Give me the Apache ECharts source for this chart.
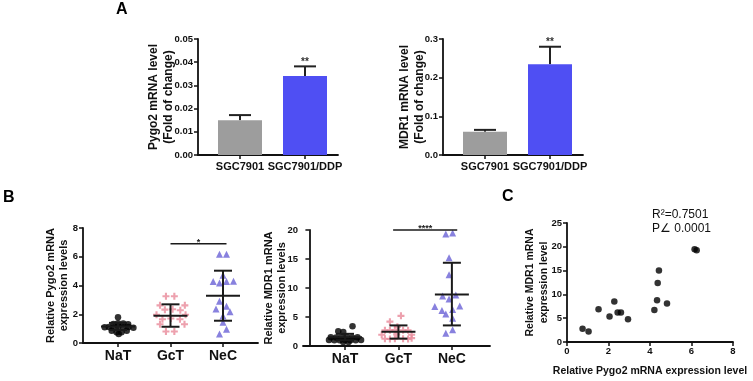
<!DOCTYPE html>
<html>
<head>
<meta charset="utf-8">
<script src="https://cdn.jsdelivr.net/npm/echarts@6.0.0/dist/echarts.min.js"></script>
<style>
html, body { margin: 0; padding: 0; background: #fff; }
#main { width: 753px; height: 381px; }
</style>
</head>
<body>
<div id="main"></div>
<script>
// ---- panel A : qPCR fold change ----
const cellLines = ['SGC7901', 'SGC7901/DDP'];
const cellPos = [2.1, 5.35];
const pygo2Fold = [0.015, 0.034];
const pygo2FoldErr = [0.0172, 0.0382];
const mdr1Fold = [0.060, 0.235];
const mdr1FoldErr = [0.065, 0.280];
const foldStars = ['', '**'];

// ---- panel B : tissue groups ----
const groups = ['NaT', 'GcT', 'NeC'];
const groupPos = [1, 2.5, 4];
const pygo2NaT = [[1.0,1.8],[0.87,1.32],[1.0,1.38],[1.15,1.36],[1.29,1.3],[0.62,1.1],[0.74,1.12],[0.87,1.08],[1.01,1.15],[1.15,1.1],[1.3,1.12],[1.44,1.06],[0.82,0.86],[0.96,0.74],[1.1,0.75],[1.25,0.86],[1.02,0.62]];
const pygo2GcT = [[2.37,3.25],[2.61,3.25],[2.2,2.62],[2.91,2.62],[2.34,2.32],[2.56,2.35],[2.78,2.28],[2.1,1.97],[2.93,1.97],[2.27,1.65],[2.51,1.7],[2.77,1.65],[2.2,1.3],[2.9,1.3],[2.37,0.8],[2.61,0.8]];
const pygo2NeC = [[3.9,6.17],[4.1,6.17],[4.0,4.72],[3.72,4.28],[3.9,4.18],[4.1,4.28],[4.3,4.3],[3.9,2.9],[4.1,2.55],[3.8,2.37],[4.2,2.18],[4.0,1.88],[4.0,1.45],[4.1,0.95],[3.9,0.63]];
const pygo2Mean = [1.15, 1.9, 3.29];
const pygo2Upper = [1.4, 2.69, 5.03];
const pygo2Lower = [0.9, 1.13, 1.55];
const pygo2Sig = [2.5, 4.1, 6.9];
const pygo2SigLabel = '*';

const mdr1NaT = [[1.21,3.4],[0.81,2.55],[0.95,2.4],[0.6,1.5],[0.75,1.45],[0.9,1.5],[1.05,1.55],[1.2,1.45],[1.35,1.5],[0.55,1.05],[0.7,1.0],[0.85,1.0],[1.0,1.05],[1.15,1.0],[1.3,1.0],[1.45,1.05],[0.95,0.7],[1.1,0.7]];
const mdr1GcT = [[2.57,5.2],[2.26,4.2],[2.47,3.3],[2.12,2.7],[2.26,2.7],[2.4,2.75],[2.63,2.7],[2.77,2.7],[2.03,1.95],[2.87,1.95],[2.45,2.0],[2.12,1.25],[2.26,1.2],[2.4,1.25],[2.63,1.25],[2.77,1.2],[2.87,1.35]];
const mdr1NeC = [[3.83,19.3],[4.02,19.5],[3.92,15.2],[3.92,12.3],[3.74,8.6],[4.11,8.8],[3.92,8.1],[3.52,6.8],[4.22,6.9],[3.83,5.5],[4.02,6.3],[3.72,6.1],[4.02,4.8],[4.02,2.8],[3.83,2.2]];
const mdr1Mean = [1.5, 2.45, 8.88];
const mdr1Upper = [2.1, 3.55, 14.35];
const mdr1Lower = [1.0, 1.27, 3.55];
const mdr1Sig = [2.35, 4.15, 20];
const mdr1SigLabel = '****';

// ---- panel C : correlation ----
const corrPygo2 = [0.75, 1.04, 1.52, 2.05, 2.28, 2.44, 2.6, 2.94, 4.21, 4.34, 4.37, 4.43, 4.82, 6.15, 6.25];
const corrMdr1 = [2.8, 2.2, 6.9, 5.35, 8.5, 6.2, 6.2, 4.8, 6.7, 8.75, 12.4, 15.0, 8.1, 19.5, 19.3];

const FONT = "'Liberation Sans', Arial, Helvetica, sans-serif";
const INK = '#111';
const barColors = ['#9d9d9d', '#4f4ff3'];

const chart = echarts.init(document.getElementById('main'));

function xLine() { return { show: true, lineStyle: { color: INK, width: 1.8 } }; }
function ticks(custom) {
  const t = { show: true, length: 4, lineStyle: { color: INK, width: 1.5 } };
  if (custom) t.customValues = custom;
  return t;
}
function lbl(size, margin) {
  return { color: INK, fontFamily: FONT, fontWeight: 'bold', fontSize: size, margin: margin };
}
function named(names, pos) {
  return v => {
    for (let i = 0; i < pos.length; i++) if (Math.abs(pos[i] - v) < 1e-6) return names[i];
    return '';
  };
}
function yName(text, gap, size, lh) {
  return {
    name: text, nameLocation: 'middle', nameRotate: 90, nameGap: gap, nameMoveOverlap: false,
    nameTextStyle: { color: INK, fontFamily: FONT, fontWeight: 'bold', fontSize: size, lineHeight: lh }
  };
}

function barRender(params, api) {
  const i = params.dataIndex;
  const base = api.coord([api.value(0), 0]);
  const top = api.coord([api.value(0), api.value(1)]);
  const err = api.coord([api.value(0), api.value(2)]);
  const ls = { stroke: '#222', lineWidth: 2 };
  return {
    type: 'group', children: [
      { type: 'line', shape: { x1: top[0], y1: top[1], x2: top[0], y2: err[1] }, style: ls },
      { type: 'line', shape: { x1: top[0] - 11, y1: err[1], x2: top[0] + 11, y2: err[1] }, style: ls },
      { type: 'rect', shape: { x: base[0] - 22, y: top[1], width: 44, height: base[1] - top[1] }, style: { fill: barColors[i] } },
      { type: 'text', style: { text: foldStars[i], x: top[0], y: err[1] + 1, align: 'center', verticalAlign: 'bottom', fill: '#333', font: 'bold 10px ' + FONT } }
    ]
  };
}

function sdRender(params, api) {
  const c = api.coord([api.value(0), api.value(1)]);
  const hi = api.coord([api.value(0), api.value(2)]);
  const lo = api.coord([api.value(0), api.value(3)]);
  const ls = { stroke: '#1a1a1a', lineWidth: 2 };
  return {
    type: 'group', children: [
      { type: 'line', shape: { x1: c[0], y1: hi[1], x2: c[0], y2: lo[1] }, style: ls },
      { type: 'line', shape: { x1: c[0] - 17, y1: c[1], x2: c[0] + 17, y2: c[1] }, style: ls },
      { type: 'line', shape: { x1: c[0] - 9, y1: hi[1], x2: c[0] + 9, y2: hi[1] }, style: ls },
      { type: 'line', shape: { x1: c[0] - 9, y1: lo[1], x2: c[0] + 9, y2: lo[1] }, style: ls }
    ]
  };
}

function sigRender(label) {
  return (params, api) => {
    const a = api.coord([api.value(0), api.value(2)]);
    const b = api.coord([api.value(1), api.value(2)]);
    return {
      type: 'group', children: [
        { type: 'line', shape: { x1: a[0], y1: a[1], x2: b[0], y2: b[1] }, style: { stroke: '#1a1a1a', lineWidth: 1.6 } },
        { type: 'text', style: { text: label, x: (a[0] + b[0]) / 2, y: a[1] + 3, align: 'center', verticalAlign: 'bottom', fill: '#222', font: 'bold 9px ' + FONT } }
      ]
    };
  };
}

const plusPath = 'path://M3.5,0h3v3.5h3.5v3h-3.5v3.5h-3v-3.5h-3.5v-3h3.5z';
const pink = '#e8899a';
const violet = '#6a62d6';

function groupSeries(g, nat, gct, nec, mean, upper, lower, sig, sigLabel) {
  const ax = { xAxisIndex: g, yAxisIndex: g };
  return [
    Object.assign({ type: 'scatter', data: nat, symbol: 'circle', symbolSize: 6.5, itemStyle: { color: '#000' }, z: 3 }, ax),
    Object.assign({ type: 'scatter', data: gct, symbol: plusPath, symbolSize: 7, itemStyle: { color: pink }, z: 3 }, ax),
    Object.assign({ type: 'scatter', data: nec, symbol: 'triangle', symbolSize: 7, itemStyle: { color: violet }, z: 3 }, ax),
    Object.assign({ type: 'custom', renderItem: sdRender, clip: false, z: 5,
      data: groupPos.map((p, i) => [p, mean[i], upper[i], lower[i]]) }, ax),
    Object.assign({ type: 'custom', renderItem: sigRender(sigLabel), clip: false, z: 5, data: [sig] }, ax)
  ];
}

const grids = [
  { left: 198, top: 39, width: 140, height: 116 },
  { left: 443, top: 39, width: 140, height: 116 },
  { left: 83, top: 228, width: 175, height: 115 },
  { left: 303, top: 230, width: 187, height: 116 },
  { left: 567, top: 223, width: 166, height: 119 }
].map(g => Object.assign({ outerBoundsMode: 'none', containLabel: false }, g));

const option = {
  animation: false,
  backgroundColor: '#fff',
  grid: grids,
  xAxis: [
    { gridIndex: 0, type: 'value', min: 0, max: 7, splitLine: { show: false }, axisLine: xLine(),
      axisTick: ticks(cellPos), axisLabel: Object.assign(lbl(11, 6), { customValues: cellPos, formatter: named(cellLines, cellPos) }) },
    { gridIndex: 1, type: 'value', min: 0, max: 7, splitLine: { show: false }, axisLine: xLine(),
      axisTick: ticks(cellPos), axisLabel: Object.assign(lbl(11, 6), { customValues: cellPos, formatter: named(cellLines, cellPos) }) },
    { gridIndex: 2, type: 'value', min: 0, max: 5, splitLine: { show: false }, axisLine: xLine(),
      axisTick: ticks(groupPos), axisLabel: Object.assign(lbl(14, 6), { customValues: groupPos, formatter: named(groups, groupPos) }) },
    { gridIndex: 3, type: 'value', min: -0.18, max: 5.07, splitLine: { show: false }, axisLine: xLine(),
      axisTick: ticks(groupPos), axisLabel: Object.assign(lbl(14, 6), { customValues: groupPos, formatter: named(groups, groupPos) }) },
    { gridIndex: 4, type: 'value', min: 0, max: 8, interval: 2, splitLine: { show: false }, axisLine: xLine(),
      axisTick: ticks(), axisLabel: lbl(9.5, 4),
      name: 'Relative Pygo2 mRNA expression level', nameLocation: 'middle', nameGap: 24, nameMoveOverlap: false,
      nameTextStyle: { color: INK, fontFamily: FONT, fontWeight: 'bold', fontSize: 10.5 } }
  ],
  yAxis: [
    Object.assign({ gridIndex: 0, type: 'value', min: 0, max: 0.05, interval: 0.01, splitLine: { show: false },
      axisLine: xLine(), axisTick: ticks(), axisLabel: Object.assign(lbl(9.5, 5), { formatter: v => v.toFixed(2) }) },
      yName('Pygo2 mRNA level\n(Fold of change)', 22, 12, 15)),
    Object.assign({ gridIndex: 1, type: 'value', min: 0, max: 0.3, interval: 0.1, splitLine: { show: false },
      axisLine: xLine(), axisTick: ticks(), axisLabel: Object.assign(lbl(9.5, 5), { formatter: v => v.toFixed(1) }) },
      yName('MDR1 mRNA level\n(Fold of change)', 16, 12, 15)),
    Object.assign({ gridIndex: 2, type: 'value', min: 0, max: 8, interval: 2, splitLine: { show: false },
      axisLine: xLine(), axisTick: ticks(), axisLabel: lbl(9.5, 5) },
      yName('Relative Pygo2 mRNA\nexpression levels', 13, 11, 13)),
    Object.assign({ gridIndex: 3, type: 'value', min: 0, max: 20, interval: 5, splitLine: { show: false },
      axisLine: xLine(), axisTick: ticks(), axisLabel: lbl(9.5, 5) },
      yName('Relative MDR1 mRNA\nexpression levels', 15, 11, 13)),
    Object.assign({ gridIndex: 4, type: 'value', min: 0, max: 25, interval: 5, splitLine: { show: false },
      axisLine: xLine(), axisTick: ticks(), axisLabel: lbl(9.5, 5) },
      yName('Relative MDR1 mRNA\nexpression level', 16, 10.5, 14))
  ],
  graphic: [
    { type: 'text', left: 116, top: 2, style: { text: 'A', font: 'bold 16px ' + FONT, fill: '#000' } },
    { type: 'text', left: 3, top: 190, style: { text: 'B', font: 'bold 16px ' + FONT, fill: '#000' } },
    { type: 'text', left: 502, top: 189, style: { text: 'C', font: 'bold 16px ' + FONT, fill: '#000' } },
    { type: 'text', left: 652, top: 208, style: { text: 'R\u00b2=0.7501\nP\u2220 0.0001', font: '12px ' + FONT, lineHeight: 14, fill: '#111' } }
  ],
  series: [
    { type: 'custom', xAxisIndex: 0, yAxisIndex: 0, renderItem: barRender, clip: false,
      data: cellPos.map((p, i) => [p, pygo2Fold[i], pygo2FoldErr[i]]) },
    { type: 'custom', xAxisIndex: 1, yAxisIndex: 1, renderItem: barRender, clip: false,
      data: cellPos.map((p, i) => [p, mdr1Fold[i], mdr1FoldErr[i]]) }
  ]
    .concat(groupSeries(2, pygo2NaT, pygo2GcT, pygo2NeC, pygo2Mean, pygo2Upper, pygo2Lower, pygo2Sig, pygo2SigLabel))
    .concat(groupSeries(3, mdr1NaT, mdr1GcT, mdr1NeC, mdr1Mean, mdr1Upper, mdr1Lower, mdr1Sig, mdr1SigLabel))
    .concat([
      { type: 'scatter', xAxisIndex: 4, yAxisIndex: 4, symbol: 'circle', symbolSize: 6.5, itemStyle: { color: '#000' },
        data: corrPygo2.map((x, i) => [x, corrMdr1[i]]) }
    ])
};

chart.setOption(option);
</script>
</body>
</html>
